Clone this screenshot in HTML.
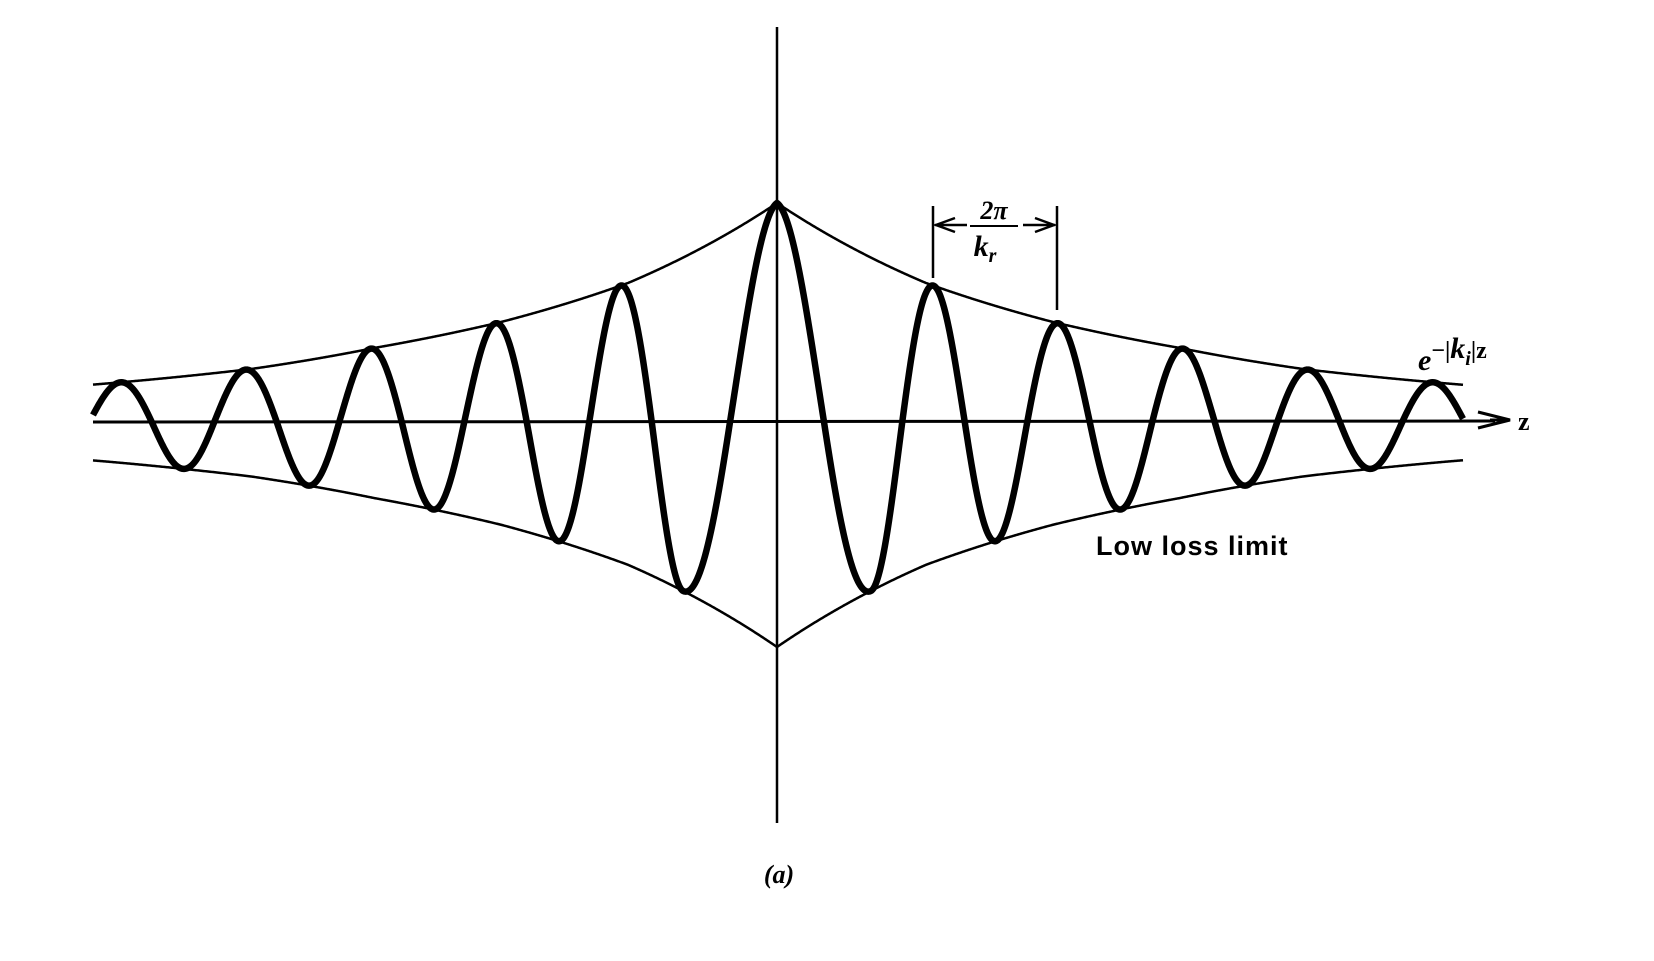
<!DOCTYPE html>
<html><head><meta charset="utf-8"><style>
html,body{margin:0;padding:0;background:#fff;}
svg{display:block;}
</style></head><body>
<svg id="s" width="1654" height="961" viewBox="0 0 1654 961" xmlns="http://www.w3.org/2000/svg">
<g stroke="#000" fill="none">
<line x1="777" y1="27" x2="777" y2="823" stroke-width="2.5"/>
<line x1="93" y1="422" x2="1495" y2="421" stroke-width="3"/>
<path d="M1478 412 L1510 420 L1478 428 M1490 420 L1510 420" stroke-width="3"/>
<path id="envT" stroke-width="2.5"/>
<path id="envB" stroke-width="2.5"/>
<path id="wave" stroke-width="6.5" stroke-linejoin="round"/>
<line x1="933" y1="206" x2="933" y2="278" stroke-width="2.5"/>
<line x1="1057" y1="206" x2="1057" y2="310" stroke-width="2.5"/>
<path d="M935 225 L967 225 M955 218 L936 225 L955 232" stroke-width="2.5"/>
<path d="M1023 225 L1055 225 M1035 218 L1054 225 L1035 232" stroke-width="2.5"/>
<line x1="970" y1="226" x2="1018" y2="226" stroke-width="2"/>
</g>
<g font-family="Liberation Serif, serif" font-weight="bold" font-style="italic" fill="#000">
<text x="994" y="219" font-size="26" text-anchor="middle">2π</text>
<text x="985" y="256" font-size="30" text-anchor="middle">k<tspan font-size="20" dy="6">r</tspan></text>
<text x="1418" y="370" font-size="30">e<tspan font-size="24" dy="-12" font-style="normal">−|</tspan><tspan font-size="30">k</tspan><tspan font-size="20" dy="7">i</tspan><tspan font-size="24" dy="-7" font-style="normal">|z</tspan></text>
<text x="1518" y="430" font-size="26" font-style="normal">z</text>
<text x="779" y="883" font-size="26" text-anchor="middle">(a)</text>
</g>
<text x="1096" y="555" font-family="Liberation Sans, sans-serif" font-weight="bold" font-size="27" letter-spacing="1" fill="#000">Low loss limit</text>
</svg>
<script>
(function(){
var cx=777, ay=422, AT=219, AB=225;
var D=[0,149,276,403,526,653,800], A=[219,139,100,74,53,40,29];
function env(d){d=Math.abs(d);
  for(var i=0;i<D.length-1;i++){ if(d<=D[i+1]){var f=(d-D[i])/(D[i+1]-D[i]);return Math.exp(Math.log(A[i])*(1-f)+Math.log(A[i+1])*f)/219;} }
  return A[A.length-1]/219;}
function phase(d){d=Math.abs(d); if(d<94) return Math.PI*d/94; return Math.PI+2*Math.PI*(d-94)/125;}
var t='',b='',w='';
for(var x=93;x<=1463;x+=1){
  var d=x-cx, e=env(d);
  t+=(x==93?'M':'L')+x+' '+(ay-AT*e).toFixed(2)+' ';
  b+=(x==93?'M':'L')+x+' '+(ay+AB*e).toFixed(2)+' ';
}
var first=true;
for(var x=93;x<=1463;x+=0.5){
  var d=x-cx, c=Math.cos(phase(d)), Am=c>=0?AT:AB;
  var y=ay-Am*env(d)*c;
  w+=(first?'M':'L')+x+' '+y.toFixed(2)+' ';first=false;
}
document.getElementById('envT').setAttribute('d',t);
document.getElementById('envB').setAttribute('d',b);
document.getElementById('wave').setAttribute('d',w);
})();
</script>
</body></html>
